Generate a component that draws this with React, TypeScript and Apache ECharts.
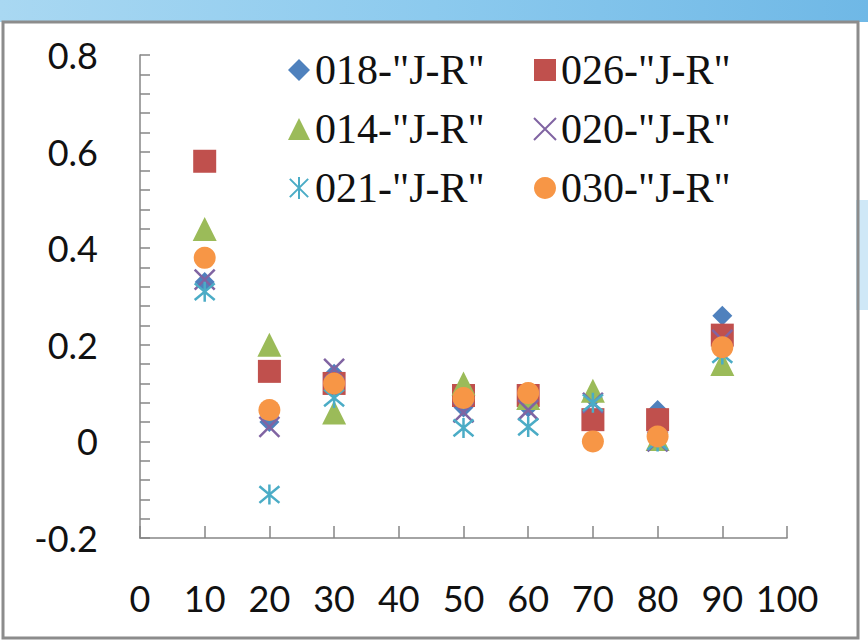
import React, { useEffect, useRef } from "react";
import * as echarts from "echarts";

const xValues = [10, 20, 30, 50, 60, 70, 80, 90];
const s018 = [0.33, 0.04, 0.14, 0.07, 0.07, 0.09, 0.065, 0.26];
const s026 = [0.58, 0.145, 0.12, 0.095, 0.095, 0.045, 0.045, 0.22];
const s014 = [0.44, 0.2, 0.06, 0.12, 0.09, 0.105, 0.005, 0.16];
const s020 = [0.335, 0.03, 0.15, 0.06, 0.065, 0.08, 0.0, 0.21];
const s021 = [0.31, -0.11, 0.09, 0.028, 0.03, 0.08, 0.0, 0.18];
const s030 = [0.38, 0.065, 0.12, 0.09, 0.1, 0.0, 0.01, 0.195];

const X_PATH = "path://M0,0L10,10M10,0L0,10";
const STAR_PATH = "path://M0,0L10,10M10,0L0,10M5,-1L5,11";

const seriesDefs = [
  { name: '018-"J-R"', data: s018, color: "#4F81BD", symbol: "diamond", size: 20, stroke: false },
  { name: '026-"J-R"', data: s026, color: "#C0504D", symbol: "rect", size: 23, stroke: false },
  { name: '014-"J-R"', data: s014, color: "#9BBB59", symbol: "triangle", size: 24, stroke: false },
  { name: '020-"J-R"', data: s020, color: "#8064A2", symbol: X_PATH, size: 20, stroke: true },
  { name: '021-"J-R"', data: s021, color: "#4BACC6", symbol: STAR_PATH, size: 20, stroke: true },
  { name: '030-"J-R"', data: s030, color: "#F79646", symbol: "circle", size: 22, stroke: false },
];

const SERIF = "serif";
const SANS = "Lato";

export default function App() {
  const ref = useRef<HTMLDivElement>(null);
  useEffect(() => {
    if (!ref.current) return;
    const chart = echarts.init(ref.current, null, { renderer: "svg" });
    const series = seriesDefs.map((s) => ({
      type: "scatter",
      name: s.name,
      symbol: s.symbol,
      symbolSize: s.size,
      data: xValues.map((x, i) => [x, s.data[i]]),
      itemStyle: s.stroke
        ? { color: "rgba(0,0,0,0)", borderColor: s.color, borderWidth: 2.5, opacity: 1 }
        : { color: s.color, borderWidth: 0, opacity: 1 },
    }));
    const legendText = { fontFamily: SERIF, fontSize: 42, color: "#111" };
    const legendCommon = {
      orient: "vertical",
      itemWidth: 22,
      itemHeight: 22,
      itemGap: 17,
      textStyle: legendText,
    };
    chart.setOption({
      animation: false,
      backgroundColor: "#ffffff",
      graphic: [
        {
          type: "rect",
          shape: { x: 0, y: 0, width: 868, height: 22 },
          style: {
            fill: new echarts.graphic.LinearGradient(0, 0, 1, 0, [
              { offset: 0, color: "#a9d8f2" },
              { offset: 0.5, color: "#8ccaee" },
              { offset: 1, color: "#6fb8e6" },
            ]),
          },
          silent: true,
        },
        {
          type: "rect",
          shape: { x: 856, y: 200, width: 12, height: 110 },
          style: { fill: "#cfe8f7" },
          silent: true,
        },
        {
          type: "rect",
          shape: { x: 3, y: 22, width: 855, height: 616 },
          style: { fill: "none", stroke: "#8c8c8c", lineWidth: 3 },
          silent: true,
        },
      ],
      grid: { left: 140, right: 81, top: 55, bottom: 105 },
      legend: [
        {
          ...legendCommon,
          left: 283,
          top: 44,
          data: ['018-"J-R"', '014-"J-R"', '021-"J-R"'],
        },
        {
          ...legendCommon,
          left: 528,
          top: 44,
          data: ['026-"J-R"', '020-"J-R"', '030-"J-R"'],
        },
      ],
      xAxis: {
        type: "value",
        min: 0,
        max: 100,
        interval: 10,
        axisLine: { show: true, onZero: false, lineStyle: { color: "#868686", width: 1.5 } },
        axisTick: { show: true, inside: true, length: 12, lineStyle: { color: "#868686", width: 1.5 } },
        splitLine: { show: false },
        axisLabel: { fontFamily: SANS, fontSize: 36, color: "#111", margin: 42 },
      },
      yAxis: {
        type: "value",
        min: -0.2,
        max: 0.8,
        interval: 0.2,
        axisLine: { show: true, onZero: false, lineStyle: { color: "#868686", width: 1.5 } },
        axisTick: { show: true, inside: true, length: 10, lineStyle: { color: "#868686", width: 1.5 } },
        minorTick: { show: true, splitNumber: 5, length: 10, lineStyle: { color: "#868686", width: 1.5 } },
        splitLine: { show: false },
        axisLabel: { fontFamily: SANS, fontSize: 36, color: "#111", margin: 42 },
      },
      series,
    });
    return () => chart.dispose();
  }, []);
  return (
    <div
      ref={ref}
      style={{ position: "absolute", left: 0, top: 0, width: 868, height: 643 }}
    />
  );
}
